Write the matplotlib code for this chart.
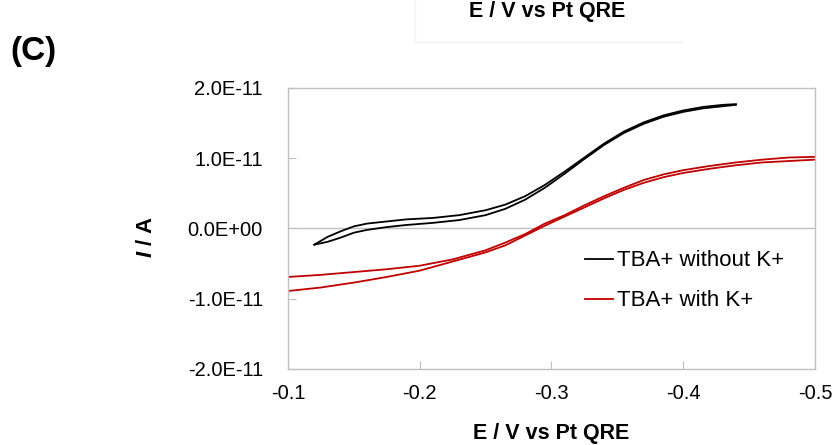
import matplotlib
matplotlib.use("Agg")
import matplotlib.pyplot as plt
from matplotlib.lines import Line2D
from matplotlib.ticker import FuncFormatter
import numpy as np

plt.rcParams["font.family"] = ["Liberation Sans", "DejaVu Sans"]
plt.rcParams["mathtext.fontset"] = "custom"
plt.rcParams["mathtext.it"] = "Liberation Sans:italic:bold"

# potentials (V vs Pt QRE) and currents (units of 1e-11 A)
black_e = [-0.120, -0.130, -0.140, -0.150, -0.160, -0.175, -0.190, -0.210, -0.230,
           -0.250, -0.265, -0.280, -0.295, -0.310, -0.325, -0.340, -0.355, -0.370,
           -0.385, -0.400, -0.415, -0.430, -0.440]
black_fwd = [-0.23, -0.12, -0.04, 0.03, 0.07, 0.10, 0.13, 0.15, 0.19,
             0.26, 0.34, 0.46, 0.62, 0.81, 1.01, 1.21, 1.38, 1.51,
             1.61, 1.68, 1.73, 1.76, 1.77]
black_rev = [-0.23, -0.19, -0.13, -0.06, -0.02, 0.02, 0.05, 0.08, 0.12,
             0.19, 0.28, 0.41, 0.58, 0.78, 0.99, 1.19, 1.36, 1.49,
             1.59, 1.66, 1.71, 1.74, 1.76]

red_e = [-0.100, -0.125, -0.150, -0.175, -0.200, -0.225, -0.250, -0.265, -0.280,
         -0.295, -0.310, -0.325, -0.340, -0.355, -0.370, -0.385, -0.400, -0.420,
         -0.440, -0.460, -0.480, -0.500]
red_fwd = [-0.69, -0.66, -0.62, -0.58, -0.53, -0.44, -0.31, -0.20, -0.08,
           0.07, 0.19, 0.33, 0.46, 0.58, 0.69, 0.77, 0.83, 0.89,
           0.94, 0.98, 1.01, 1.02]
red_rev = [-0.89, -0.84, -0.77, -0.69, -0.60, -0.47, -0.34, -0.24, -0.10,
           0.04, 0.17, 0.30, 0.43, 0.55, 0.65, 0.73, 0.79, 0.85,
           0.90, 0.94, 0.96, 0.98]

x_ticks = [-0.1, -0.2, -0.3, -0.4, -0.5]
y_ticks = [-2e-11, -1e-11, 0.0, 1e-11, 2e-11]

AXIS_GREY = "#c0c0c0"
RED = "#c00000"

fig = plt.figure(figsize=(8.34, 4.45), dpi=100)
ax = fig.add_axes([0.3453, 0.1708, 0.6319, 0.6315])

scale = 1e-11
ax.plot(black_e, np.array(black_fwd) * scale, color="black", lw=1.3,
        label="TBA+ without K+")
ax.plot(black_e, np.array(black_rev) * scale, color="black", lw=1.3)
ax.plot(red_e, np.array(red_fwd) * scale, color=RED, lw=1.3,
        label="TBA+ with K+")
ax.plot(red_e, np.array(red_rev) * scale, color=RED, lw=1.3)

ax.axhline(0, color=AXIS_GREY, lw=1.0, zorder=0)

ax.set_xlim(-0.1, -0.5)
ax.set_ylim(-2e-11, 2e-11)
ax.set_xticks(x_ticks)
ax.set_xticklabels([f"{v:.1f}" for v in x_ticks])
ax.set_yticks(y_ticks)
ax.yaxis.set_major_formatter(FuncFormatter(lambda v, p: f"{v:.1E}"))

for s in ax.spines.values():
    s.set_color(AXIS_GREY)
    s.set_linewidth(1.0)
ax.tick_params(direction="in", length=6, color=AXIS_GREY, labelsize=14.5)
ax.tick_params(axis="y", pad=18)
ax.tick_params(axis="x", pad=11)

ax.set_xlabel("E / V vs Pt QRE", fontsize=15.5, fontweight="bold", labelpad=14)
ax.set_ylabel(r"$\mathit{I}$ / A", fontsize=16, fontweight="bold")
ax.yaxis.set_label_coords((157 - 288) / 527, (369 - 237) / 281)

ax.legend(loc="upper left", bbox_to_anchor=(0.5636, 0.422), frameon=False,
          fontsize=16, handlelength=1.27, handletextpad=0.18,
          labelspacing=0.85, borderaxespad=0, borderpad=0)

# panel letter and the cut-off label from the panel above
fig.text(0.012, 0.885, "(C)", fontsize=24, fontweight="bold", va="center")
fig.text(0.656, 0.975, "E / V vs Pt QRE", fontsize=15.5, fontweight="bold",
         ha="center", va="center")
fig.add_artist(Line2D([0.498, 0.818], [0.905, 0.905], transform=fig.transFigure,
                      color="#f0f0f0", lw=1.0))
fig.add_artist(Line2D([0.498, 0.498], [0.905, 1.0], transform=fig.transFigure,
                      color="#f4f4f4", lw=1.0))

fig.savefig("out.png", dpi=100)
